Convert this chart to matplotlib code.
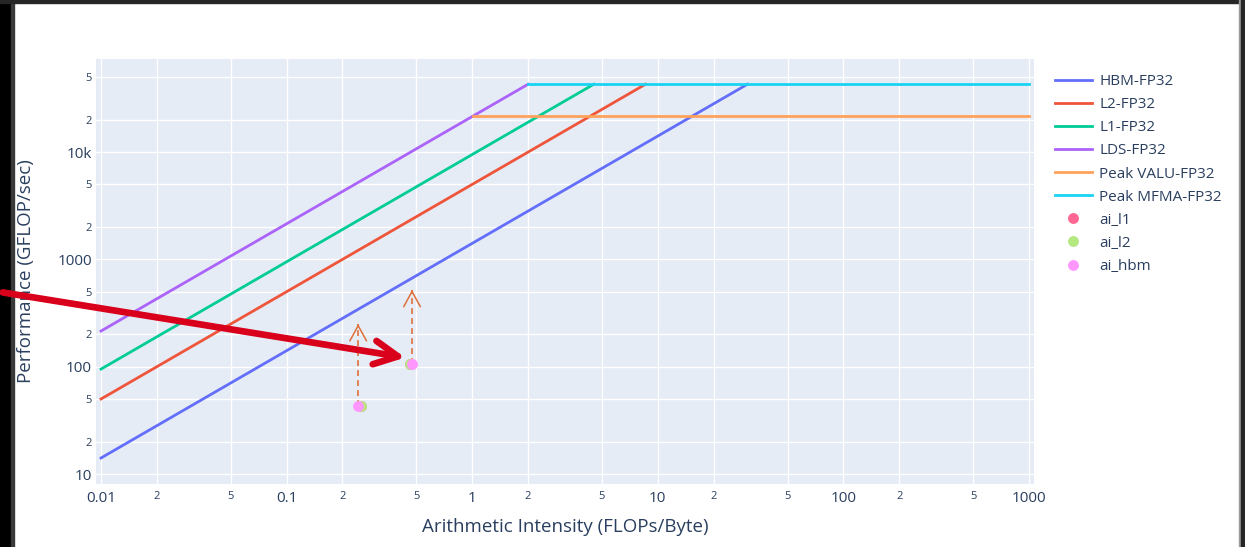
import numpy as np
import matplotlib
matplotlib.use('Agg')
import matplotlib.pyplot as plt
from matplotlib.patches import Rectangle, FancyArrowPatch

# roofline segments (AI in FLOPs/Byte, perf in GFLOP/sec)
hbm_x = [0.01, 30.4]
hbm_y = [14.1, 42900]
l2_x = [0.01, 8.58]
l2_y = [50, 42900]
l1_x = [0.01, 4.52]
l1_y = [95, 42900]
lds_x = [0.01, 2.0]
lds_y = [215, 42900]
valu_x = [1.01, 1000]
valu_y = [21800, 21800]
mfma_x = [2.0, 1000]
mfma_y = [42900, 42900]

# kernel points
ai_l1_x = [0.252, 0.462]
ai_l1_y = [43.0, 106.7]
ai_l2_x = [0.252, 0.462]
ai_l2_y = [43.0, 106.7]
ai_hbm_x = [0.243, 0.474]
ai_hbm_y = [43.0, 106.7]
arrow_x = [0.243, 0.474]
arrow_top = [250, 520]

xticks = [0.01, 0.02, 0.05, 0.1, 0.2, 0.5, 1, 2, 5, 10, 20, 50, 100, 200, 500, 1000]
xlabels = ['0.01', '2', '5', '0.1', '2', '5', '1', '2', '5', '10', '2', '5', '100', '2', '5', '1000']
yticks = [10, 20, 50, 100, 200, 500, 1000, 2000, 5000, 10000, 20000, 50000]
ylabels = ['10', '2', '5', '100', '2', '5', '1000', '2', '5', '10k', '2', '5']

txt = '#2a3f5f'
plt.rcParams['font.family'] = ['Open Sans', 'DejaVu Sans']

W, H = 1245, 547
fig = plt.figure(figsize=(W / 100, H / 100), dpi=100)
fig.patch.set_facecolor('white')
ax = fig.add_axes([96 / W, 1 - 484 / H, (1034 - 96) / W, (484 - 59) / H])
ax.set_facecolor('#E5ECF6')
ax.set_xscale('log')
ax.set_yscale('log')
ax.set_xlim(10 ** -2.027, 10 ** 3.027)
ax.set_ylim(10 ** (1 - 10 / 107.3), 10 ** (1 + 415 / 107.3))

lw = 2.0
ax.plot(hbm_x, hbm_y, color='#636EFA', lw=lw, label='HBM-FP32')
ax.plot(l2_x, l2_y, color='#EF553B', lw=lw, label='L2-FP32')
ax.plot(l1_x, l1_y, color='#00CC96', lw=lw, label='L1-FP32')
ax.plot(lds_x, lds_y, color='#AB63FA', lw=lw, label='LDS-FP32')
ax.plot(valu_x, valu_y, color='#FFA15A', lw=lw, label='Peak VALU-FP32')
ax.plot(mfma_x, mfma_y, color='#19D3F3', lw=lw, label='Peak MFMA-FP32')

for x0, y0, y1 in zip(arrow_x, ai_hbm_y, arrow_top):
    ax.plot([x0, x0], [y0, y1], color='#E0703A', lw=1.2, ls=(0, (3.5, 2.5)))
    ax.annotate('', xy=(x0, y1), xytext=(0, -1), textcoords='offset points',
                arrowprops=dict(arrowstyle='->,head_length=1.1,head_width=0.6',
                                color='#E0703A', lw=1.1))

ax.plot(ai_l1_x, ai_l1_y, 'o', color='#FF6692', ms=6.8, label='ai_l1')
ax.plot(ai_l2_x, ai_l2_y, 'o', color='#B6E880', ms=6.8, label='ai_l2')
ax.plot(ai_hbm_x, ai_hbm_y, 'o', color='#FF97FF', ms=6.8, label='ai_hbm')

ax.set_xticks(xticks)
ax.set_xticklabels(xlabels)
ax.set_yticks(yticks)
ax.set_yticklabels(ylabels)
ax.minorticks_off()
ax.tick_params(length=0, colors=txt, labelsize=11)
ax.tick_params(axis='x', pad=5)
ax.tick_params(axis='y', pad=3)
for lab in ax.get_xticklabels() + ax.get_yticklabels():
    if lab.get_text() in ('2', '5'):
        lab.set_fontsize(8)
ax.grid(True, color='white', lw=1.0)
ax.set_axisbelow(True)
for s in ax.spines.values():
    s.set_visible(False)

fig.text(565 / W, 1 - 527 / H, 'Arithmetic Intensity (FLOPs/Byte)', ha='center', va='center',
         fontsize=13.5, color=txt)
fig.text(26 / W, 1 - 271 / H, 'Performance (GFLOP/sec)', ha='center', va='center',
         rotation=90, fontsize=13.5, color=txt)

leg = fig.legend(*ax.get_legend_handles_labels(), loc='upper left',
                 bbox_to_anchor=(1049 / W, 1 - 68 / H), frameon=False,
                 fontsize=11, labelcolor=txt, handlelength=2.4, handletextpad=0.5,
                 labelspacing=0.53, borderaxespad=0)

# screenshot frame
fig.add_artist(Rectangle((0, 0), 11 / W, 1, transform=fig.transFigure, color='#000000', zorder=5))
fig.add_artist(Rectangle((11 / W, 0), 3 / W, 1, transform=fig.transFigure, color='#3a3a3a', zorder=5))
fig.add_artist(Rectangle((0, 1 - 3 / H), 1, 3 / H, transform=fig.transFigure, color='#262626', zorder=5))
fig.add_artist(Rectangle((1239 / W, 0), 2 / W, 1, transform=fig.transFigure, color='#9a9a9a', zorder=5))
fig.add_artist(Rectangle((1241 / W, 0), 4 / W, 1, transform=fig.transFigure, color='#262626', zorder=5))

# red callout arrow
fig.add_artist(FancyArrowPatch((0, 1 - 292 / H), (408 / W, 1 - 358 / H), transform=fig.transFigure,
                               arrowstyle='->,head_length=1.7,head_width=0.85', mutation_scale=10,
                               color='#D9001B', lw=4.8, capstyle='round', joinstyle='round', zorder=10))

fig.savefig('out.png', dpi=100)
